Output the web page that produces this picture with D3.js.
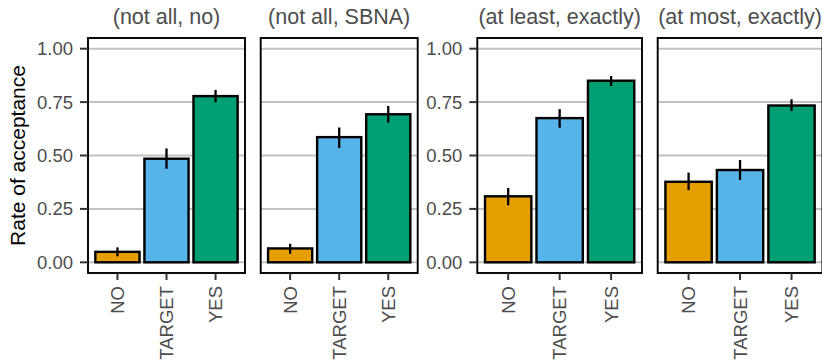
<!DOCTYPE html>
<html>
<head>
<meta charset="utf-8">
<script src="https://cdn.jsdelivr.net/npm/d3@7"></script>
<style>
  html, body { margin: 0; padding: 0; background: #fff; }
  svg { display: block; font-family: "Liberation Sans", Arial, Helvetica, sans-serif; }
</style>
</head>
<body>
<svg id="chart" width="822" height="361"></svg>
<script>
// ---- data ----
const facets = ["(not all, no)", "(not all, SBNA)", "(at least, exactly)", "(at most, exactly)"];
const categories = ["NO", "TARGET", "YES"];
const rateNotAllNo     = [0.049, 0.485, 0.778];
const rateNotAllSBNA   = [0.065, 0.586, 0.693];
const rateAtLeast      = [0.309, 0.675, 0.850];
const rateAtMost       = [0.377, 0.432, 0.734];
const lowNotAllNo      = [0.028, 0.438, 0.750];
const highNotAllNo     = [0.070, 0.533, 0.807];
const lowNotAllSBNA    = [0.040, 0.535, 0.654];
const highNotAllSBNA   = [0.087, 0.631, 0.732];
const lowAtLeast       = [0.267, 0.630, 0.825];
const highAtLeast      = [0.348, 0.717, 0.872];
const lowAtMost        = [0.338, 0.385, 0.708];
const highAtMost       = [0.420, 0.479, 0.763];
const yTicks = [0, 0.25, 0.5, 0.75, 1.0];
const yTickLabels = ["0.00", "0.25", "0.50", "0.75", "1.00"];
const barColors = ["#E69F00", "#56B4E9", "#009E73"];
const yTitle = "Rate of acceptance";

const rates = [rateNotAllNo, rateNotAllSBNA, rateAtLeast, rateAtMost];
const lows = [lowNotAllNo, lowNotAllSBNA, lowAtLeast, lowAtMost];
const highs = [highNotAllNo, highNotAllSBNA, highAtLeast, highAtMost];

// ---- layout ----
const panelLeft = [88, 260.7, 477.3, 657.7];
const panelW = [157, 157, 164.7, 164.7];
const showYAxis = [true, false, true, false];
const panelTop = 38, panelBottom = 273;

const svg = d3.select("#chart");
const y = d3.scaleLinear().domain([-0.05, 1.05]).range([panelBottom, panelTop]);
const tickCol = "#333333", labelCol = "#4D4D4D";

facets.forEach((name, fi) => {
  const x0 = panelLeft[fi], w = panelW[fi];
  // step = w / 3.2, bar width = 0.9 * step (ggplot-like discrete expansion)
  const x = d3.scaleBand().domain(categories)
    .range([x0, x0 + w]).paddingInner(0.1).paddingOuter(0.15);
  const g = svg.append("g");

  // grid
  g.selectAll("line.grid").data(yTicks).join("line")
    .attr("x1", x0).attr("x2", x0 + w)
    .attr("y1", d => y(d)).attr("y2", d => y(d))
    .attr("stroke", "#C2C2C2").attr("stroke-width", 2);

  // bars
  const vals = rates[fi];
  g.selectAll("rect.bar").data(categories).join("rect")
    .attr("x", d => x(d)).attr("width", x.bandwidth())
    .attr("y", (d, i) => y(vals[i]))
    .attr("height", (d, i) => y(0) - y(vals[i]))
    .attr("fill", (d, i) => barColors[i])
    .attr("stroke", "#000").attr("stroke-width", 2.4);

  // error bars
  g.selectAll("line.err").data(categories).join("line")
    .attr("x1", d => x(d) + x.bandwidth() / 2).attr("x2", d => x(d) + x.bandwidth() / 2)
    .attr("y1", (d, i) => y(lows[fi][i])).attr("y2", (d, i) => y(highs[fi][i]))
    .attr("stroke", "#000").attr("stroke-width", 2.3);

  // panel border
  g.append("rect").attr("x", x0).attr("y", panelTop)
    .attr("width", w).attr("height", panelBottom - panelTop)
    .attr("fill", "none").attr("stroke", "#000").attr("stroke-width", 1.9);

  // strip title
  g.append("text").attr("x", x0 + w / 2).attr("y", 24)
    .attr("text-anchor", "middle").attr("font-size", 21.5).attr("fill", labelCol)
    .text(name);

  // x axis ticks + labels
  categories.forEach(c => {
    const cx = x(c) + x.bandwidth() / 2;
    g.append("line").attr("x1", cx).attr("x2", cx)
      .attr("y1", panelBottom).attr("y2", panelBottom + 7)
      .attr("stroke", tickCol).attr("stroke-width", 2);
    g.append("text")
      .attr("transform", `translate(${cx},${panelBottom + 13}) rotate(-90)`)
      .attr("text-anchor", "end").attr("dominant-baseline", "central")
      .attr("font-size", 18.5).attr("fill", labelCol)
      .text(c);
  });

  // y axis
  if (showYAxis[fi]) {
    yTicks.forEach((t, i) => {
      g.append("line").attr("x1", x0 - 8).attr("x2", x0)
        .attr("y1", y(t)).attr("y2", y(t))
        .attr("stroke", tickCol).attr("stroke-width", 2);
      g.append("text").attr("x", x0 - 15).attr("y", y(t))
        .attr("text-anchor", "end").attr("dominant-baseline", "central")
        .attr("font-size", 18.5).attr("fill", labelCol)
        .text(yTickLabels[i]);
    });
  }
});

// y axis title
svg.append("text")
  .attr("transform", `translate(25,${(panelTop + panelBottom) / 2}) rotate(-90)`)
  .attr("text-anchor", "middle").attr("font-size", 21).attr("fill", "#000")
  .text(yTitle);
</script>
</body>
</html>
